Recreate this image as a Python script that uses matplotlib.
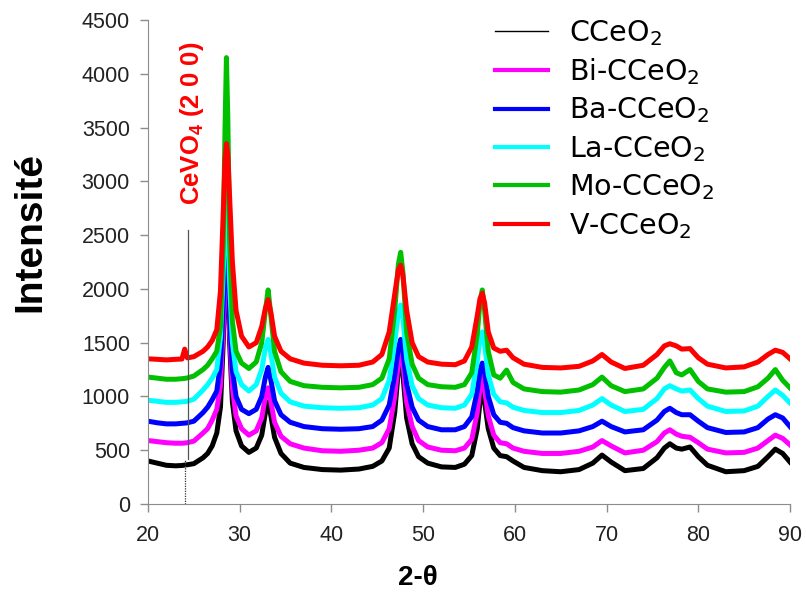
import matplotlib
matplotlib.use("Agg")
import matplotlib.pyplot as plt
from matplotlib.lines import Line2D

plt.rcParams['font.family'] = ['Liberation Sans', 'DejaVu Sans']
plt.rcParams['mathtext.default'] = 'regular'

# 2-theta grid (deg)
two_theta = [20, 21, 22, 23, 23.7, 24.0, 24.3, 25, 26, 26.5, 27, 27.5, 27.9, 28.2, 28.4, 28.55, 28.7,
             28.9, 29.2, 29.6, 30.2, 31, 31.8, 32.4, 32.8, 33.1, 33.4, 33.8, 34.5, 35.5, 37, 39, 41,
             43, 44.5, 45.5, 46.3, 46.9, 47.3, 47.55, 47.8, 48.2, 48.8, 49.5, 50.5, 52, 53.5, 54.5,
             55.3, 55.9, 56.2, 56.45, 56.7, 57.1, 57.7, 58.4, 59.1, 59.8, 61, 63, 65, 67, 68.5, 69.5,
             70.5, 72, 74, 75.5, 76.3, 76.9, 77.6, 78.2, 79.1, 80, 81, 83, 85, 86.5, 87.6, 88.4, 89.2, 90]

cceo2 = [400, 380, 360, 355, 358, 362, 365, 375, 430, 470, 540, 660, 900, 1500, 2100, 2450, 2150,
         1500, 950, 680, 540, 480, 520, 640, 850, 950, 820, 620, 470, 380, 340, 320, 315,
         325, 350, 400, 520, 850, 1250, 1380, 1200, 800, 560, 440, 380, 345, 340, 370,
         450, 700, 950, 1080, 950, 700, 520, 450, 440, 400, 340, 310, 300, 320, 380, 455,
         390, 310, 330, 430, 520, 560, 520, 510, 530, 440, 360, 300, 310, 350, 440, 510, 470, 390]

bi_cceo2 = [590, 580, 570, 565, 565, 567, 570, 585, 660, 700, 780, 880, 1100, 1650, 2200, 2550, 2250,
            1600, 1080, 820, 700, 640, 680, 800, 1000, 1080, 950, 760, 630, 560, 520, 495, 490,
            500, 520, 570, 700, 1000, 1320, 1440, 1300, 950, 720, 590, 530, 500, 495, 520,
            600, 850, 1080, 1180, 1060, 820, 640, 570, 560, 520, 490, 470, 470, 490, 530, 590,
            540, 475, 500, 580, 660, 690, 650, 630, 620, 570, 510, 475, 480, 520, 590, 640, 610, 550]

ba_cceo2 = [770, 755, 745, 745, 750, 752, 755, 770, 850, 900, 970, 1050, 1300, 1850, 2350, 2700, 2400,
            1750, 1250, 1000, 880, 840, 880, 1000, 1180, 1270, 1150, 960, 830, 760, 720, 700, 695,
            700, 720, 780, 920, 1200, 1450, 1530, 1420, 1120, 900, 780, 720, 690, 690, 720,
            810, 1050, 1240, 1310, 1220, 1000, 830, 760, 750, 710, 680, 660, 660, 680, 720, 770,
            720, 670, 690, 780, 860, 890, 850, 830, 830, 770, 710, 665, 670, 710, 790, 830, 800, 720]

la_cceo2 = [965, 955, 945, 945, 950, 952, 955, 975, 1060, 1110, 1170, 1250, 1550, 2150, 2650, 2900, 2650,
            2050, 1500, 1230, 1110, 1050, 1110, 1250, 1450, 1530, 1400, 1180, 1030, 950, 910, 895, 890,
            895, 920, 980, 1150, 1500, 1780, 1850, 1720, 1350, 1100, 980, 920, 895, 890, 920,
            1020, 1330, 1540, 1600, 1480, 1200, 1020, 950, 940, 900, 870, 850, 850, 870, 920, 980,
            920, 860, 880, 980, 1070, 1100, 1070, 1050, 1060, 980, 910, 860, 865, 910, 1000, 1060, 1010, 940]

mo_cceo2 = [1180, 1170, 1160, 1160, 1165, 1168, 1172, 1190, 1250, 1290, 1350, 1420, 1650, 2400, 3500, 4150, 3600,
            2450, 1700, 1420, 1310, 1260, 1320, 1500, 1800, 1990, 1750, 1420, 1230, 1140, 1100, 1085, 1080,
            1085, 1110, 1170, 1350, 1800, 2230, 2340, 2150, 1600, 1300, 1170, 1110, 1090, 1085, 1110,
            1220, 1580, 1880, 1990, 1800, 1420, 1200, 1170, 1245, 1130, 1070, 1045, 1040, 1060, 1110, 1180,
            1100, 1045, 1070, 1170, 1270, 1330, 1220, 1200, 1250, 1140, 1070, 1040, 1045, 1090, 1170, 1250, 1150, 1080]

v_cceo2 = [1350, 1345, 1340, 1345, 1348, 1440, 1358, 1370, 1420, 1460, 1520, 1620, 1980, 2700, 3200, 3350, 3250,
           2850, 2250, 1800, 1560, 1460, 1500, 1650, 1820, 1900, 1780, 1560, 1420, 1350, 1310, 1290, 1285,
           1290, 1320, 1390, 1600, 1950, 2180, 2220, 2120, 1800, 1500, 1370, 1320, 1300, 1295, 1330,
           1460, 1750, 1910, 1960, 1870, 1600, 1450, 1420, 1430, 1360, 1300, 1270, 1265, 1280, 1330, 1390,
           1320, 1260, 1290, 1390, 1470, 1490, 1470, 1440, 1445, 1360, 1300, 1265, 1275, 1320, 1390, 1430, 1410, 1350]

labels = ['CCeO$_2$', 'Bi-CCeO$_2$', 'Ba-CCeO$_2$', 'La-CCeO$_2$', 'Mo-CCeO$_2$', 'V-CCeO$_2$']
colors = ['black', '#ff00ff', '#0000ff', '#00ffff', '#00c000', '#ff0000']
series = [cceo2, bi_cceo2, ba_cceo2, la_cceo2, mo_cceo2, v_cceo2]

# CeVO4 (2 0 0) marker
marker_x = 24.4
marker_top = 2550

fig = plt.figure(figsize=(8.06, 5.94), dpi=100)
ax = fig.add_axes([148/806, 1-504/594, 642/806, 484/594])

for y, c in zip(series, colors):
    ax.plot(two_theta, y, color=c, lw=3.6, solid_joinstyle='round')

ax.plot([marker_x, marker_x], [420, marker_top], color='#555555', lw=0.9)
ax.plot([marker_x - 0.35, marker_x - 0.35], [0, 420], color='#333333', lw=0.9, ls=(0, (1, 1)))
ax.text(marker_x + 0.35, 4300, 'CeVO$_4$ (2 0 0)', rotation=90, color='red', fontsize=18.5,
        fontweight='bold', ha='center', va='top')

ax.set_xlim(20, 90)
ax.set_ylim(0, 4500)
ax.set_xticks(range(20, 91, 10))
ax.set_yticks(range(0, 4501, 500))
for s in ['top', 'right']:
    ax.spines[s].set_visible(False)
for s in ['left', 'bottom']:
    ax.spines[s].set_color('#8c8c8c')
ax.tick_params(axis='both', colors='#8c8c8c', labelcolor='#222222', labelsize=15.5, length=6,
               width=1)
ax.tick_params(axis='y', pad=7)
ax.tick_params(axis='x', pad=9)

fig.text(30/806, 1-232/594, 'Intensité', rotation=90, fontsize=28, fontweight='bold',
         ha='center', va='center')
fig.text(418/806, 1-578/594, '2-θ', fontsize=20, fontweight='bold', ha='center', va='center')

handles = [Line2D([], [], color=c, lw=1.0 if i == 0 else 3.0) for i, c in enumerate(colors)]
ax.legend(handles, labels, loc='upper left', bbox_to_anchor=(495/806, 1-18/594),
          bbox_transform=fig.transFigure, frameon=False, handlelength=1.85,
          handletextpad=0.75, labelspacing=0.3, borderpad=0, borderaxespad=0,
          prop={'family': 'DejaVu Sans', 'size': 20.5})

fig.savefig('out.png', dpi=100)
